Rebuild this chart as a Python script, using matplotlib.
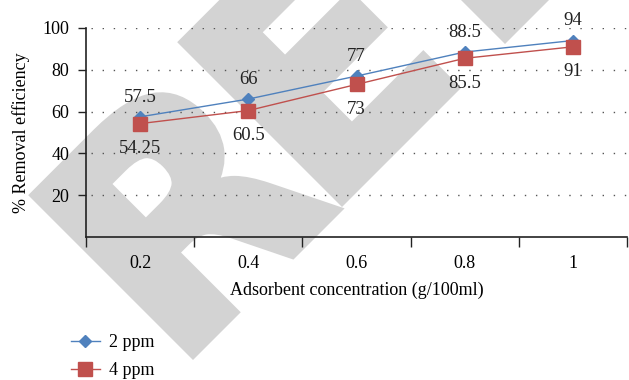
import matplotlib
matplotlib.use("Agg")
import matplotlib.pyplot as plt
from matplotlib.lines import Line2D
from matplotlib.textpath import TextPath
from matplotlib.patches import PathPatch
from matplotlib.font_manager import FontProperties
from matplotlib.transforms import Affine2D, IdentityTransform

plt.rcParams["font.family"] = ["Liberation Serif", "DejaVu Serif"]
plt.rcParams["lines.scale_dashes"] = False

categories = ["0.2", "0.4", "0.6", "0.8", "1"]
ppm2 = [57.5, 66, 77, 88.5, 94]
ppm4 = [54.25, 60.5, 73, 85.5, 91]
yticks = [20, 40, 60, 80, 100]

blue = "#4F81BD"
red = "#C0504D"
wm_grey = "#d3d3d3"

DPI = 100
fig = plt.figure(figsize=(6.29, 3.80), dpi=DPI)

# Watermark letters, set on a 45 degree baseline underneath the chart.
# Each entry: letter and the pixel position (from bottom-left) of its stem foot.
wm_letters = ["R", "E", "F"]
wm_feet = [(193, 20), (342, 173), (505, 336)]
wm_size = 306          # glyph em size in pixels
wm_edge = 10           # outline width in pixels
wm_prop = FontProperties(family="DejaVu Sans", weight="bold")
for letter, (fx, fy) in zip(wm_letters, wm_feet):
    tp = TextPath((0, 0), letter, size=wm_size, prop=wm_prop)
    x0 = tp.get_extents().x0
    # shift so the outlined stem foot sits at the origin, then rotate and place
    tr = (Affine2D().translate(-(x0 - wm_edge / 2), wm_edge / 2)
          .rotate_deg(45).translate(fx, fy))
    patch = PathPatch(tp, facecolor=wm_grey, edgecolor=wm_grey,
                      linewidth=wm_edge * 72 / DPI, joinstyle="miter",
                      transform=tr + IdentityTransform(), zorder=-5)
    fig.patches.append(patch)

ax = fig.add_axes([86 / 629, 1 - 237 / 380, (627 - 86) / 629, (237 - 28) / 380])
ax.patch.set_alpha(0)

x = list(range(len(categories)))
ax.plot(x, ppm2, color=blue, lw=1.0, marker="D", ms=6.2, mec=blue, mfc=blue, zorder=4)
ax.plot(x, ppm4, color=red, lw=1.0, marker="s", ms=10, mec=red, mfc=red, zorder=5)

for xi, v in zip(x, ppm2):
    ax.annotate(f"{v:g}", (xi, v), xytext=(0, 8), textcoords="offset points",
                ha="center", va="bottom", fontsize=13.5, color="#222222")
for xi, v in zip(x, ppm4):
    ax.annotate(f"{v:g}", (xi, v), xytext=(0, -12), textcoords="offset points",
                ha="center", va="top", fontsize=13.5, color="#222222")

ax.set_xlim(-0.5, len(categories) - 0.5)
ax.set_ylim(0, 100)
ax.set_yticks(yticks)
ax.set_yticklabels([str(t) for t in yticks], fontsize=13)
for t in yticks:
    ax.axhline(t, color="#555555", lw=1.0, dashes=(1, 7), zorder=1, xmin=0.01)

ax.set_xticks([i + 0.5 for i in range(-1, len(categories))])
ax.set_xticklabels([])
ax.set_xticks(x, minor=True)
ax.set_xticklabels(categories, minor=True, fontsize=13)
ax.tick_params(axis="x", which="major", direction="out", length=7, width=1, color="#222222")
ax.tick_params(axis="x", which="minor", length=0, pad=13)
ax.tick_params(axis="y", direction="out", length=6, width=1, color="#222222", pad=6)

for side in ["top", "right"]:
    ax.spines[side].set_visible(False)
for side in ["left", "bottom"]:
    ax.spines[side].set_color("#222222")
    ax.spines[side].set_linewidth(1.2)

ax.set_xlabel("Adsorbent concentration (g/100ml)", fontsize=13, labelpad=7)
ax.set_ylabel("% Removal efficiency", fontsize=13, labelpad=9)

handles = [
    Line2D([], [], color=blue, lw=1.0, marker="D", ms=6.2, mec=blue, mfc=blue),
    Line2D([], [], color=red, lw=1.0, marker="s", ms=10, mec=red, mfc=red),
]
fig.legend(handles, ["2 ppm", "4 ppm"], loc="upper left", bbox_to_anchor=(0.101, 0.14),
           frameon=False, fontsize=13, handlelength=1.6, handletextpad=0.5,
           labelspacing=0.6, borderaxespad=0)

fig.savefig("out.png", dpi=DPI)
